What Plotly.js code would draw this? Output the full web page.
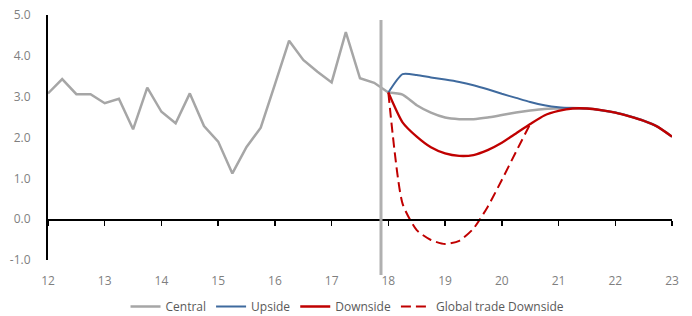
<!DOCTYPE html>
<html>
<head>
<meta charset="utf-8">
<script src="https://cdn.plot.ly/plotly-3.0.1.min.js"></script>
<style>html,body{margin:0;padding:0;background:#fff;}#chart{width:692px;height:316px;}</style>
</head>
<body>
<div id="chart"></div>
<script>
// History (quarterly)
const histX = [12,12.25,12.5,12.75,13,13.25,13.5,13.75,14,14.25,14.5,14.75,15,15.25,15.5,15.75,16,16.25,16.5,16.75,17,17.25,17.5,17.75,18];
const histY = [3.08,3.43,3.06,3.06,2.84,2.95,2.20,3.22,2.63,2.35,3.08,2.28,1.90,1.12,1.77,2.24,3.30,4.37,3.90,3.61,3.35,4.58,3.45,3.34,3.10];
// Forecast (quarterly)
const fcX = [18,18.25,18.5,18.75,19,19.25,19.5,19.75,20,20.25,20.5,20.75,21,21.25,21.5,21.75,22,22.25,22.5,22.75,23];
const central = [3.10,3.05,2.79,2.61,2.49,2.45,2.45,2.49,2.55,2.61,2.66,2.70,2.71,2.72,2.71,2.67,2.61,2.52,2.41,2.26,2.02];
const upside = [3.10,3.55,3.53,3.47,3.42,3.36,3.28,3.18,3.07,2.97,2.87,2.79,2.74,2.72,2.71,2.67,2.61,2.52,2.41,2.26,2.02];
const downside = [3.10,2.37,2.02,1.76,1.61,1.55,1.57,1.69,1.87,2.10,2.33,2.54,2.65,2.71,2.71,2.67,2.61,2.52,2.41,2.26,2.02];
const globalX = [18,18.25,18.5,18.75,19,19.25,19.5,19.75,20,20.25,20.5];
const globalDown = [3.10,0.38,-0.27,-0.51,-0.61,-0.53,-0.23,0.30,0.96,1.65,2.33];
// Forecast divider
const dividerX = 17.87;
const dividerTop = 4.88;
const dividerBottom = -1.37;
// Axes
const xTicks = [12,13,14,15,16,17,18,19,20,21,22,23];
const yTicks = [-1,0,1,2,3,4,5];
const yTickText = ["-1.0","0.0","1.0","2.0","3.0","4.0","5.0"];
const seriesNames = ["Central","Upside","Downside","Global trade Downside"];

const GREY = "#a6a6a6", BLUE = "#3f6a9e", RED = "#c00000";
const yMin = -1, yMax = 5;
const toPaper = v => (v - yMin) / (yMax - yMin);

const traces = [
  {x: histX, y: histY, name: seriesNames[0], mode: "lines", line: {color: GREY, width: 2.5}, legendgroup: "c", hoverinfo: "skip"},
  {x: fcX, y: central, name: seriesNames[0], mode: "lines", line: {color: GREY, width: 2.5, shape: "spline", smoothing: 0.6}, legendgroup: "c", showlegend: false, hoverinfo: "skip"},
  {x: fcX, y: upside, name: seriesNames[1], mode: "lines", line: {color: BLUE, width: 2, shape: "spline", smoothing: 0.6}, hoverinfo: "skip"},
  {x: fcX, y: downside, name: seriesNames[2], mode: "lines", line: {color: RED, width: 2.3, shape: "spline", smoothing: 0.6}, hoverinfo: "skip"},
  {x: globalX, y: globalDown, name: seriesNames[3], mode: "lines", line: {color: RED, width: 2, dash: "10px,5px", shape: "spline", smoothing: 0.6}, hoverinfo: "skip"},
  {x: [], y: [], xaxis: "x2", yaxis: "y", showlegend: false, hoverinfo: "skip", mode: "lines"}
];

const tickFont = {family: "Open Sans, Liberation Sans, sans-serif", size: 12, color: "#7f7f7f"};

const layout = {
  width: 692, height: 316,
  margin: {l: 48, r: 20, t: 15, b: 56, autoexpand: false},
  paper_bgcolor: "#fff", plot_bgcolor: "#fff",
  showlegend: true,
  legend: {orientation: "h", xref: "paper", x: 0.48, xanchor: "center", yref: "container", y: 0.03, yanchor: "middle",
           font: {family: "Open Sans, Liberation Sans, sans-serif", size: 12, color: "#595959"},
           itemwidth: 30, tracegroupgap: 0},
  xaxis: {range: [12, 23], tickvals: xTicks, ticktext: xTicks.map(String), ticks: "", showline: false,
          showgrid: false, zeroline: false, tickfont: tickFont, ticklabelstandoff: 12, automargin: false},
  xaxis2: {range: [12, 23], overlaying: "x", anchor: "free", position: toPaper(0), tickvals: xTicks,
           showticklabels: false, ticks: "outside", ticklen: 5, tickwidth: 1.5, tickcolor: "#000",
           showline: true, linecolor: "#000", linewidth: 1.5, showgrid: false, zeroline: false, automargin: false},
  yaxis: {range: [yMin, yMax], tickvals: yTicks, ticktext: yTickText, ticks: "", showline: true,
          linecolor: "#000", linewidth: 2, showgrid: false, zeroline: false, tickfont: tickFont,
          ticklabelstandoff: 13, automargin: false},
  shapes: [
    {type: "line", xref: "x", yref: "paper", x0: dividerX, x1: dividerX,
     y0: toPaper(dividerBottom), y1: toPaper(dividerTop), line: {color: "#b0b0b0", width: 3}, layer: "above"}
  ]
};

Plotly.newPlot("chart", traces, layout, {staticPlot: true, displayModeBar: false});
</script>
</body>
</html>
